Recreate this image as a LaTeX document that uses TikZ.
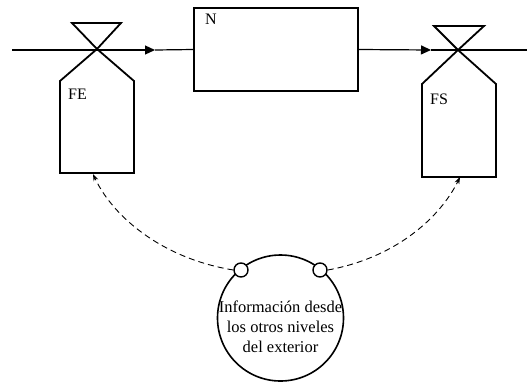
\documentclass[tikz,border=0pt]{standalone}
\usepackage{fontspec}
\setmainfont{Liberation Serif}
\usetikzlibrary{arrows.meta}
\begin{document}
\begin{tikzpicture}[x=1pt,y=-1pt,
  thick line/.style={line width=1.8pt, line join=miter},
  flow/.style={line width=1.2pt},
  dashconn/.style={dashed, dash pattern=on 6pt off 4pt, line width=0.9pt, -{Stealth[length=7pt,width=5pt]}},
  lbl/.style={font=\fontsize{16}{19}\selectfont, inner sep=0pt, anchor=north west},
  port/.style={circle, draw, fill=white, line width=1.4pt, minimum size=14pt, inner sep=0pt}]
\useasboundingbox (0,0) rectangle (527,381);
% coordinates
\coordinate (in) at (12,50);
\coordinate (a1) at (155,50);
\coordinate (v1) at (97,49);
\coordinate (a2) at (431,50);
\coordinate (v2) at (458,50);
\coordinate (out) at (527,50);
\coordinate (b1) at (93,174);
\coordinate (b2) at (460,177);
% N box
\node[draw, thick line, minimum width=164pt, minimum height=83pt, inner sep=0pt] (N) at (276,49.5) {};
\node[lbl] (Nl) at (205,14) {N};
% main flow
\draw[flow, -{Triangle[length=10pt,width=9pt]}] (in) -- (a1);
\draw[flow] (a1) -- (N.west);
\draw[flow, -{Triangle[length=10pt,width=9pt]}] (N.east) -- (a2);
\draw[flow] (a2) -- (out);
% left valve (FE)
\draw[thick line] (v1) -- (72,23) -- (121,23) -- cycle;
\draw[thick line] (v1) -- (60,81) -- (60,173) -- (134,173) -- (134,81) -- cycle;
\node[lbl] (FE) at (68,89) {FE};
% right valve (FS)
\draw[thick line] (v2) -- (434,26) -- (484,26) -- cycle;
\draw[thick line] (v2) -- (422,84) -- (422,177) -- (496,177) -- (496,84) -- cycle;
\node[lbl] (FS) at (430,94) {FS};
% information circle
\node[circle, draw, line width=1.6pt, minimum size=126pt, inner sep=0pt] (I) at (280.5,318) {};
\node[font=\fontsize{16.5}{20}\selectfont, align=center, inner sep=0pt] (It) at (280.5,327)
      {Información desde\\los otros niveles\\del exterior};
\node[port] (p1) at (241,270) {};
\node[port] (p2) at (320,270) {};
% dashed connectors
\draw[dashconn] (p1.west) .. controls (160,258) and (112,215) .. (b1);
\draw[dashconn] (p2.east) .. controls (395,258) and (440,218) .. (b2);
\end{tikzpicture}
\end{document}
